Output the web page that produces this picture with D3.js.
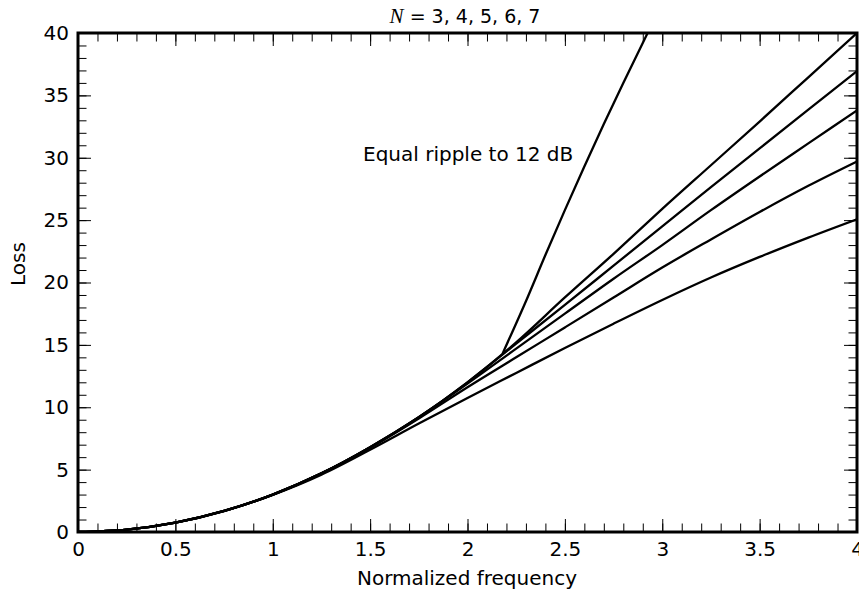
<!doctype html>
<html>
  <head>
    <script src="https://cdnjs.cloudflare.com/ajax/libs/d3/7.8.5/d3.min.js"></script>
    <style>
      body { margin: 0; background: #fff; }
      text { font-family: "DejaVu Sans", sans-serif; font-size: 20px; fill: #000; }
    </style>
  </head>
  <body>
    <svg id="chart" width="859" height="592"></svg>
    <script>
        // normalized frequency samples shared by the five filter curves
        var freq = [0, 0.25, 0.5, 0.75, 1, 1.25, 1.5, 1.75, 2, 2.25, 2.5, 2.75, 3, 3.25, 3.5, 3.75, 4];

        // loss (dB), one array per order N
        var lossN7 = [0, 0.19, 0.75, 1.69, 3.0, 4.7, 6.8, 9.2, 12.0, 15.2, 18.8, 22.3, 25.9, 29.4, 32.9, 36.45, 40];
        var lossN6 = [0, 0.19, 0.75, 1.69, 3.0, 4.7, 6.8, 9.2, 12.0, 15.1, 18.2, 21.35, 24.5, 27.65, 30.75, 33.85, 36.95];
        var lossN5 = [0, 0.19, 0.75, 1.69, 3.0, 4.7, 6.8, 9.2, 11.9, 14.7, 17.5, 20.3, 23.0, 25.8, 28.5, 31.15, 33.8];
        var lossN4 = [0, 0.19, 0.75, 1.69, 3.0, 4.7, 6.75, 9.1, 11.6, 14.0, 16.4, 18.8, 21.2, 23.45, 25.65, 27.75, 29.7];
        var lossN3 = [0, 0.19, 0.75, 1.68, 2.98, 4.6, 6.6, 8.7, 10.75, 12.75, 14.75, 16.7, 18.6, 20.4, 22.05, 23.6, 25.07];

        // equal ripple to 12 dB: below 2.2 it runs inside the bundle, so only the branch is drawn
        var rippleFreq = [2.18, 2.3, 2.4, 2.5, 2.6, 2.7, 2.8, 2.925];
        var rippleLoss = [14.3, 18.5, 22.2, 25.8, 29.3, 32.7, 36.0, 40];

        var xMajor = d3.range(0, 4.001, 0.5);
        var xMinor = d3.range(0, 41, 1).map(d => d / 10);
        var yMajor = d3.range(0, 41, 5);
        var yMinor = d3.range(0, 41, 1);

        var svg = d3.select("#chart");
        var plotL = 78, plotR = 857, plotT = 33, plotB = 532;

        var x = d3.scaleLinear().domain([0, 4]).range([plotL, plotR]);
        var y = d3.scaleLinear().domain([0, 40]).range([plotB, plotT]);

        function drawAxis(axisFn, pos, values, size, labels, pad) {
            var a = axisFn.tickValues(values).tickSize(size).tickSizeOuter(0);
            if (labels) a.tickPadding(pad).tickFormat(d3.format("~g"));
            else a.tickFormat("");
            var g = svg.append("g").attr("transform", pos).call(a);
            g.select(".domain").remove();
            g.selectAll(".tick line").attr("stroke", "#000").attr("stroke-width", 1);
            g.selectAll("text").style("font-family", "DejaVu Sans").style("font-size", "20px");
            return g;
        }

        // ticks point inward on all four sides
        drawAxis(d3.axisBottom(x), `translate(0,${plotB})`, xMinor, -8.5, false);
        drawAxis(d3.axisBottom(x), `translate(0,${plotB})`, xMajor, -13, true, 10);
        drawAxis(d3.axisTop(x), `translate(0,${plotT})`, xMinor, -8.5, false);
        drawAxis(d3.axisTop(x), `translate(0,${plotT})`, xMajor, -13, false);
        drawAxis(d3.axisLeft(y), `translate(${plotL},0)`, yMinor, -8.5, false);
        drawAxis(d3.axisLeft(y), `translate(${plotL},0)`, yMajor, -13, true, 9);
        drawAxis(d3.axisRight(y), `translate(${plotR},0)`, yMinor, -8.5, false);
        drawAxis(d3.axisRight(y), `translate(${plotR},0)`, yMajor, -13, false);

        svg.append("clipPath").attr("id", "plotClip")
            .append("rect")
                .attr("x", plotL).attr("y", plotT)
                .attr("width", plotR - plotL).attr("height", plotB - plotT);

        var line = d3.line()
            .x(d => x(d[0]))
            .y(d => y(d[1]))
            .curve(d3.curveMonotoneX);

        var curves = [lossN3, lossN4, lossN5, lossN6, lossN7].map(vals => freq.map((f, i) => [f, vals[i]]));
        curves.push(rippleFreq.map((f, i) => [f, rippleLoss[i]]));

        svg.append("g").attr("clip-path", "url(#plotClip)")
            .selectAll("path")
            .data(curves)
            .enter()
            .append("path")
                .attr("d", line)
                .attr("fill", "none")
                .attr("stroke", "#000")
                .attr("stroke-width", 2.3)
                .attr("stroke-linejoin", "round");

        // frame
        svg.append("rect")
            .attr("x", plotL).attr("y", plotT)
            .attr("width", plotR - plotL).attr("height", plotB - plotT)
            .attr("fill", "none")
            .attr("stroke", "#000")
            .attr("stroke-width", 3);

        // title with italic N
        var title = svg.append("text")
            .attr("x", 465).attr("y", 23)
            .attr("text-anchor", "middle")
            .style("font-size", "19px");
        title.append("tspan")
            .style("font-family", "Liberation Serif")
            .style("font-style", "italic")
            .style("font-size", "21px")
            .text("N");
        title.append("tspan").text(" = 3, 4, 5, 6, 7");

        svg.append("text")
            .attr("x", 467).attr("y", 585)
            .attr("text-anchor", "middle")
            .text("Normalized frequency");

        svg.append("text")
            .attr("transform", "translate(25,264) rotate(-90)")
            .attr("text-anchor", "middle")
            .text("Loss");

        svg.append("text")
            .attr("x", 363).attr("y", 161)
            .text("Equal ripple to 12 dB");
    </script>
  </body>
</html>
